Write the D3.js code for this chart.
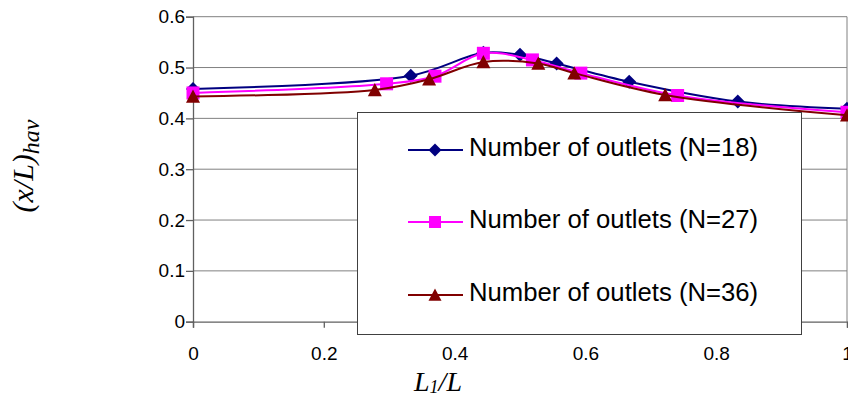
<!DOCTYPE html>
<html>
<head>
<meta charset="utf-8">
<script src="https://cdn.jsdelivr.net/npm/d3@7"></script>
<style>
  body { margin: 0; background: #fff; }
  svg { display: block; }
  .tick text { font-family: "Liberation Sans", Arial, sans-serif; font-size: 19px; fill: #000; }
</style>
</head>
<body>
<svg id="chart" width="848" height="398"></svg>
<script>
const svg = d3.select('#chart');

// values
const xN18 = [0, 0.333, 0.444, 0.5, 0.556, 0.667, 0.833, 1];
const yN18 = [0.458, 0.484, 0.529, 0.525, 0.508, 0.472, 0.433, 0.419];
const xN27 = [0, 0.296, 0.370, 0.444, 0.519, 0.593, 0.741, 1];
const yN27 = [0.450, 0.468, 0.483, 0.528, 0.515, 0.489, 0.445, 0.412];
const xN36 = [0, 0.278, 0.361, 0.444, 0.528, 0.583, 0.722, 1];
const yN36 = [0.443, 0.456, 0.477, 0.511, 0.508, 0.489, 0.446, 0.406];

const seriesNames = ['Number of outlets (N=18)', 'Number of outlets (N=27)', 'Number of outlets (N=36)'];
const xTicks = [0, 0.2, 0.4, 0.6, 0.8, 1];
const yTicks = [0, 0.1, 0.2, 0.3, 0.4, 0.5, 0.6];

const series = [
    {name: seriesNames[0], xs: xN18, ys: yN18, color: '#000080', marker: 'diamond'},
    {name: seriesNames[1], xs: xN27, ys: yN27, color: '#ff00ff', marker: 'square'},
    {name: seriesNames[2], xs: xN36, ys: yN36, color: '#800000', marker: 'triangle'}
];

const x = d3.scaleLinear().domain([0, 1]).range([193, 847]);
const y = d3.scaleLinear().domain([0, 0.6]).range([321.7, 16.7]);

// marker shapes, centred on 0,0
function markerPath(type, s) {
    let h = s / 2;
    if (type === 'diamond') return `M0,${-h}L${h},0L0,${h}L${-h},0Z`;
    if (type === 'square') return `M${-h},${-h}H${h}V${h}H${-h}Z`;
    return `M0,${-h}L${h},${h * 0.9}L${-h},${h * 0.9}Z`;
}
const markerSize = {diamond: 14, square: 13, triangle: 14};

// gridlines
svg.append('g')
    .selectAll('line')
    .data(yTicks.filter(d => d > 0))
    .enter()
    .append('line')
    .attr('x1', x(0)).attr('x2', x(1))
    .attr('y1', d => y(d)).attr('y2', d => y(d))
    .attr('stroke', '#808080')
    .attr('stroke-width', 1);

// right border of plot area
svg.append('line')
    .attr('x1', x(1)).attr('x2', x(1))
    .attr('y1', y(0.6)).attr('y2', y(0))
    .attr('stroke', '#808080');

// axes
const yAxis = svg.append('g')
    .attr('transform', `translate(${x(0)},0)`)
    .call(d3.axisLeft(y).tickValues(yTicks).tickSize(7).tickPadding(1).tickFormat(d3.format('~g')));

const xAxis = svg.append('g')
    .attr('transform', `translate(0,${y(0)})`)
    .call(d3.axisBottom(x).tickValues(xTicks).tickSize(6).tickPadding(19).tickFormat(d3.format('~g')));

[yAxis, xAxis].forEach(a => {
    a.select('.domain').attr('stroke', '#606060').attr('stroke-width', 1.3);
    a.selectAll('.tick line').attr('stroke', '#606060').attr('stroke-width', 1.3);
});

// lines and markers
const line = d3.line()
    .x(d => x(d[0]))
    .y(d => y(d[1]))
    .curve(d3.curveCatmullRom);

series.forEach(s => {
    let pts = s.xs.map((v, i) => [v, s.ys[i]]);
    svg.append('path')
        .attr('d', line(pts))
        .attr('fill', 'none')
        .attr('stroke', s.color)
        .attr('stroke-width', 2);

    svg.append('g')
        .selectAll('path')
        .data(pts)
        .enter()
        .append('path')
        .attr('d', markerPath(s.marker, markerSize[s.marker]))
        .attr('transform', d => `translate(${x(d[0])},${y(d[1])})`)
        .attr('fill', s.color);
});

// legend
const legend = svg.append('g');
legend.append('rect')
    .attr('x', 357.5).attr('y', 112.5)
    .attr('width', 444).attr('height', 222)
    .attr('fill', '#fff')
    .attr('stroke', '#404040')
    .attr('stroke-width', 1);

const rowY = [150, 222, 295];
series.forEach((s, i) => {
    legend.append('line')
        .attr('x1', 408).attr('x2', 463)
        .attr('y1', rowY[i]).attr('y2', rowY[i])
        .attr('stroke', s.color)
        .attr('stroke-width', 2);
    legend.append('path')
        .attr('d', markerPath(s.marker, markerSize[s.marker] - 1))
        .attr('transform', `translate(435,${rowY[i]})`)
        .attr('fill', s.color);
    legend.append('text')
        .attr('x', 469).attr('y', rowY[i] + 5.5)
        .attr('font-family', '"Liberation Sans", Arial, sans-serif')
        .attr('font-size', 25.7)
        .attr('fill', '#000')
        .text(s.name);
});

// axis titles
const xTitle = svg.append('text')
    .attr('x', 438).attr('y', 391)
    .attr('text-anchor', 'middle')
    .attr('font-family', '"Liberation Serif", "Times New Roman", serif')
    .attr('font-style', 'italic')
    .attr('font-size', 28);
xTitle.append('tspan').text('L');
xTitle.append('tspan').attr('font-size', 18).attr('dy', 2).text('1');
xTitle.append('tspan').attr('dy', -2).text('/L');

const yTitle = svg.append('text')
    .attr('transform', 'translate(33,166) rotate(-90)')
    .attr('text-anchor', 'middle')
    .attr('font-family', '"Liberation Serif", "Times New Roman", serif')
    .attr('font-style', 'italic')
    .attr('font-size', 30);
yTitle.append('tspan').text('(x/L)');
yTitle.append('tspan').attr('font-size', 24).attr('dy', 6).text('hav');
</script>
</body>
</html>
